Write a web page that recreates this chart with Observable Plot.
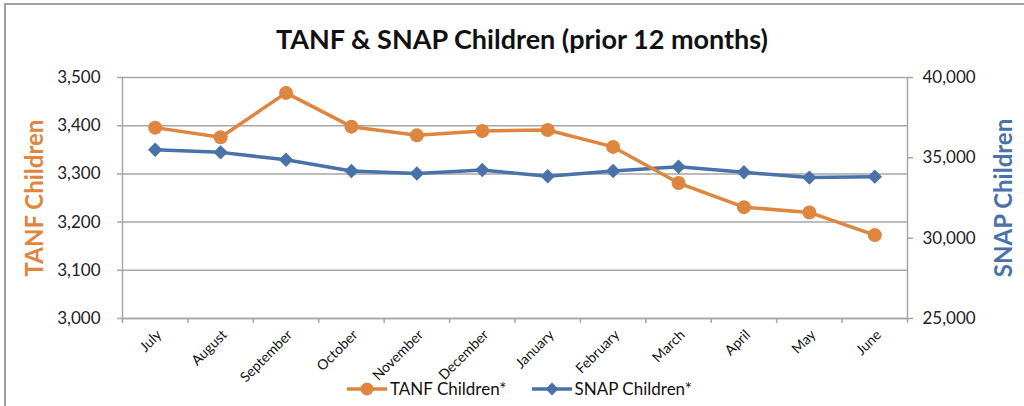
<!DOCTYPE html>
<html>
<head>
<meta charset="utf-8">
<script src="https://cdn.jsdelivr.net/npm/d3@7"></script>
<script src="https://cdn.jsdelivr.net/npm/@observablehq/plot@0.6"></script>
<style>
  html, body { margin: 0; padding: 0; background: #fff; }
  #wrap { position: relative; width: 1024px; height: 406px; overflow: hidden; font-family: Lato, "Open Sans", sans-serif; }
  #frame { position: absolute; left: 4px; top: 3px; width: 1030px; height: 420px; border-top: 2px solid #a0a0a0; border-left: 2px solid #a0a0a0; box-sizing: border-box; }
  #title { position: absolute; left: 0; top: 22px; width: 1044px; text-align: center; font-weight: bold; font-size: 27px; color: #111; }
  #legend { position: absolute; top: 378px; left: 346px; display: flex; align-items: center; font-size: 17px; color: #111; }
  #legend .item { display: flex; align-items: center; }
  #chart { position: absolute; left: 0; top: 0; }
</style>
</head>
<body>
<div id="wrap">
  <div id="frame"></div>
  <div id="chart"></div>
  <div id="title">TANF &amp; SNAP Children (prior 12 months)</div>
  <div id="legend"></div>
</div>
<script>
const months = ["July","August","September","October","November","December","January","February","March","April","May","June"];
const tanf = [3396, 3376, 3468, 3398, 3380, 3389, 3391, 3356, 3281, 3231, 3220, 3173];
const snap = [35500, 35340, 34880, 34180, 34030, 34240, 33850, 34180, 34450, 34100, 33770, 33830];
const leftTicks = [3000, 3100, 3200, 3300, 3400, 3500];
const rightTicks = [25000, 30000, 35000, 40000];

const orange = "#DE8540";
const blue = "#4872A8";
const gray = "#a6a6a6";

// map SNAP values onto the left (TANF) scale
const toLeft = v => 3000 + (v - 25000) / 15000 * 500;
const fromLeft = v => Math.round(25000 + (v - 3000) / 500 * 15000);
const fmt = d3.format(",");

const tanfData = months.map((m, i) => ({i, m, v: tanf[i]}));
const snapData = months.map((m, i) => ({i, m, v: toLeft(snap[i])}));
const bounds = d3.range(-0.5, 12, 1);

const chart = Plot.plot({
  width: 1024,
  height: 406,
  marginLeft: 122,
  marginRight: 117,
  marginTop: 77,
  marginBottom: 88,
  style: {fontFamily: "Lato, 'Open Sans', sans-serif", background: "transparent", overflow: "visible"},
  x: {type: "linear", domain: [-0.5, 11.5]},
  y: {type: "linear", domain: [3000, 3500]},
  marks: [
    Plot.gridY(leftTicks, {stroke: gray, strokeOpacity: 1, strokeWidth: 1.5}),
    // left axis
    Plot.ruleX([-0.5], {stroke: gray, strokeWidth: 1.5}),
    Plot.axisY(leftTicks, {anchor: "left", tickSize: 5, tickPadding: 17, stroke: gray, strokeWidth: 1.5, tickFormat: fmt, fontSize: 17, fill: "#222", label: null}),
    // right axis
    Plot.ruleX([11.5], {stroke: gray, strokeWidth: 1.5}),
    Plot.axisY(rightTicks.map(toLeft), {anchor: "right", tickSize: 5, tickPadding: 10, stroke: gray, strokeWidth: 1.5, tickFormat: d => fmt(fromLeft(d)), fontSize: 17, fill: "#222", label: null}),
    // x axis
    Plot.ruleY([3000], {stroke: gray, strokeWidth: 1.5}),
    Plot.axisX(bounds, {tickSize: 5, tickFormat: () => "", stroke: gray, strokeWidth: 1.5, label: null}),
    Plot.text(months, {x: (d, i) => i, y: () => 3000, text: d => d, rotate: -45, textAnchor: "end", dx: 4, dy: 14, fontSize: 14, fill: "#111"}),
    // axis titles
    Plot.text(["TANF Children"], {frameAnchor: "left", textAnchor: "middle", dx: -87, rotate: -90, fontSize: 24, fontWeight: "bold", fill: orange}),
    Plot.text(["SNAP Children"], {frameAnchor: "right", textAnchor: "middle", dx: 97, rotate: -90, fontSize: 24, fontWeight: "bold", fill: blue}),
    // series
    Plot.line(snapData, {x: "i", y: "v", stroke: blue, strokeWidth: 3.5}),
    Plot.dot(snapData, {x: "i", y: "v", symbol: "diamond2", r: 6.5, fill: blue, stroke: null}),
    Plot.line(tanfData, {x: "i", y: "v", stroke: orange, strokeWidth: 3.5}),
    Plot.dot(tanfData, {x: "i", y: "v", r: 7, fill: orange, stroke: null})
  ]
});
document.getElementById("chart").appendChild(chart);

// legend
const legend = d3.select("#legend");
const items = [
  {label: "TANF Children*", color: orange, shape: "circle"},
  {label: "SNAP Children*", color: blue, shape: "diamond"}
];
items.forEach((it, k) => {
  const div = legend.append("div").attr("class", "item").style("margin-right", k === 0 ? "24px" : "0");
  const s = div.append("svg").attr("width", 42).attr("height", 18);
  s.append("line").attr("x1", 1).attr("x2", 41).attr("y1", 9).attr("y2", 9).attr("stroke", it.color).attr("stroke-width", 3.5);
  if (it.shape === "circle") s.append("circle").attr("cx", 21).attr("cy", 9).attr("r", 6.5).attr("fill", it.color);
  else s.append("path").attr("d", "M21,2.5L27.5,9L21,15.5L14.5,9Z").attr("fill", it.color);
  div.append("span").text(it.label).style("margin-left", "2px");
});
</script>
</body>
</html>
